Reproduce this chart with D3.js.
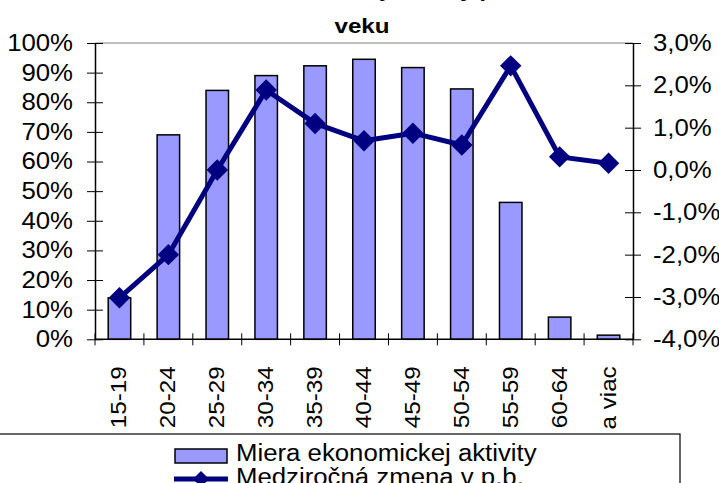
<!DOCTYPE html>
<html><head><meta charset="utf-8">
<script src="https://cdn.jsdelivr.net/npm/d3@7"></script>
<style>body{margin:0;background:#fff}svg{display:block}text{font-family:"Liberation Sans",Arial,sans-serif}</style>
</head><body><svg id="c" width="719" height="483"></svg>
<script>
const categories = ["15-19","20-24","25-29","30-34","35-39","40-44","45-49","50-54","55-59","60-64","a viac"];
const activity = [14, 69, 84, 89, 92.3, 94.5, 91.7, 84.5, 46.2, 7.5, 1.4];
const change = [-3.02, -2.0, 0.0, 1.89, 1.10, 0.69, 0.87, 0.59, 2.46, 0.31, 0.16];
const leftTicks = [0,10,20,30,40,50,60,70,80,90,100];
const rightTicks = [-4,-3,-2,-1,0,1,2,3];
const titleLines = ["Miera ekonomickej aktivity podľa", "veku"];
const legendLabels = ["Miera ekonomickej aktivity", "Medziročná zmena v p.b."];

const svg = d3.select("#c");
const L = 95, R = 633, T = 43, B = 339.3;
const x = d3.scaleBand().domain(categories).range([L, R]).paddingInner(0.54).paddingOuter(0.27);
const xb = d3.scaleBand().domain(categories).range([L, R]);
const yL = d3.scaleLinear().domain([0, 100]).range([B, T]);
const yR = d3.scaleLinear().domain([-4, 3]).range([B, T]);
const navy = "#000080";
const FONT = '"Liberation Sans",Arial,sans-serif';

function stretch(sel, k) {
  sel.each(function() {
    const len = this.getComputedTextLength();
    d3.select(this).attr("textLength", len * k).attr("lengthAdjust", "spacingAndGlyphs");
  });
}

// title
const t1 = svg.append("text").attr("x", 362).attr("y", -3).attr("text-anchor","middle")
  .attr("font-size", 21).attr("font-weight","bold").text(titleLines[0]);
const t2 = svg.append("text").attr("x", 362).attr("y", 33).attr("text-anchor","middle")
  .attr("font-size", 21).attr("font-weight","bold").text(titleLines[1]);
stretch(t1, 1.1); stretch(t2, 1.15);

// plot border top
svg.append("line").attr("x1", L).attr("x2", R).attr("y1", T).attr("y2", T).attr("stroke", "#808080").attr("stroke-width", 1.2);

// bars
svg.append("g").selectAll("rect").data(activity).join("rect")
  .attr("x", (d,i) => x(categories[i]))
  .attr("width", x.bandwidth())
  .attr("y", d => yL(d))
  .attr("height", d => B - yL(d))
  .attr("fill", "#9999FF").attr("stroke", "#000").attr("stroke-width", 1.5);

// left axis
const gl = svg.append("g").attr("transform", `translate(${L},0)`)
  .call(d3.axisLeft(yL).tickValues(leftTicks).tickFormat(d => d + "%").tickSizeInner(8).tickSizeOuter(0).tickPadding(14));
gl.selectAll(".tick line").attr("x2", 8).attr("x1", -8);
// right axis
const gr = svg.append("g").attr("transform", `translate(${R},0)`)
  .call(d3.axisRight(yR).tickValues(rightTicks).tickFormat(d => d3.format(".1f")(d).replace(".", ",").replace("−","-") + "%").tickSizeInner(8).tickSizeOuter(0).tickPadding(12));
gr.selectAll(".tick line").attr("x1", -8).attr("x2", 8);
// x axis
const gx = svg.append("g").attr("transform", `translate(0,${B})`);
gx.append("line").attr("x1", L).attr("x2", R).attr("stroke", "#000").attr("stroke-width", 1.5);
gx.selectAll(".bt").data(categories.concat(["end"])).join("line").attr("class","bt")
  .attr("x1", (d,i) => L + i * xb.step()).attr("x2", (d,i) => L + i * xb.step())
  .attr("y1", -6).attr("y2", 6).attr("stroke", "#000").attr("stroke-width", 1);
const xl = gx.selectAll(".xl").data(categories).join("text").attr("class","xl")
  .attr("transform", d => `translate(${xb(d) + xb.bandwidth()/2 + 7},27) rotate(-90)`)
  .attr("text-anchor", "end").attr("font-size", 22).text(d => d);
stretch(xl, 1.1);

[gl, gr].forEach(g => {
  g.select(".domain").attr("stroke", "#000").attr("stroke-width", 1.5);
  g.selectAll(".tick line").attr("stroke", "#000").attr("stroke-width", 1);
  g.selectAll(".tick text").attr("font-size", 23).attr("fill", "#000").attr("font-family", FONT);
  stretch(g.selectAll(".tick text"), 1.12);
});

// line
const line = d3.line().x((d,i) => xb(categories[i]) + xb.bandwidth()/2).y(d => yR(d));
svg.append("path").datum(change).attr("d", line).attr("fill", "none").attr("stroke", navy).attr("stroke-width", 5).attr("stroke-linejoin","round");
svg.append("g").selectAll("path").data(change).join("path")
  .attr("transform", (d,i) => `translate(${xb(categories[i]) + xb.bandwidth()/2},${yR(d)}) rotate(45)`)
  .attr("d", d3.symbol().type(d3.symbolSquare).size(230)).attr("fill", navy);

// legend
const lg = svg.append("g");
lg.append("rect").attr("x", -2).attr("y", 434).attr("width", 682).attr("height", 60).attr("fill", "#fff").attr("stroke", "#000").attr("stroke-width", 1.2);
lg.append("rect").attr("x", 175).attr("y", 449).attr("width", 52).attr("height", 14).attr("fill", "#9999FF").attr("stroke", "#000").attr("stroke-width", 1.5);
lg.append("line").attr("x1", 174).attr("x2", 228).attr("y1", 479).attr("y2", 479).attr("stroke", navy).attr("stroke-width", 5);
lg.append("path").attr("transform", "translate(201,479) rotate(45)").attr("d", d3.symbol().type(d3.symbolSquare).size(130)).attr("fill", navy);
const lt = lg.selectAll(".lt").data(legendLabels).join("text").attr("class","lt")
  .attr("x", 236).attr("y", (d,i) => 461 + i * 24).attr("font-size", 23).text(d => d);
stretch(lt, 1.12);
</script></body></html>
